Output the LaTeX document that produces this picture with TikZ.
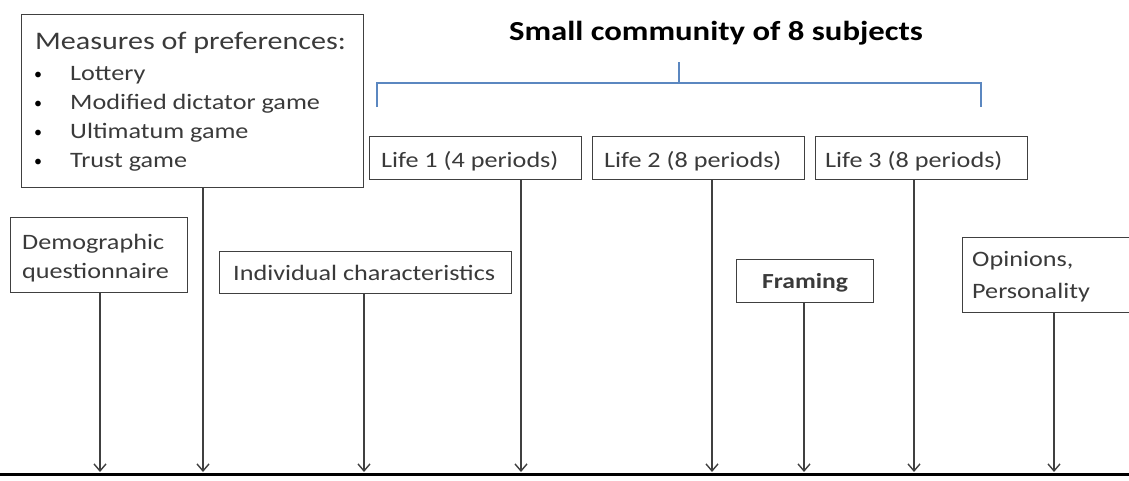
\documentclass[tikz,border=0pt]{standalone}
\usepackage{fontspec}
\setmainfont{Carlito}
\usetikzlibrary{arrows.meta}
\definecolor{txt}{HTML}{3A3A3A}
\definecolor{edge}{HTML}{404040}
\definecolor{brk}{HTML}{5B87C0}
\newcommand{\sx}[1]{\scalebox{1.19}[1]{#1}}
\begin{document}
\begin{tikzpicture}[x=1pt,y=-1pt,
  box/.style={draw=edge,line width=1.4pt,inner sep=0pt,anchor=north west},
  lbl/.style={inner sep=0pt,anchor=base west,text=txt,font=\fontsize{22}{26}\selectfont},
  bul/.style={inner sep=0pt,anchor=base west,text=black,font=\fontsize{16}{20}\selectfont},
  arr/.style={draw=edge,line width=1.4pt,-{Straight Barb[length=7pt,width=12pt,line width=1.4pt]}},
]
\useasboundingbox (0,0) rectangle (1129,480);
% timeline
\coordinate (tl0) at (0,474);
\coordinate (tl1) at (1129,474);
\draw[line width=3pt,black] (tl0) -- (tl1);
% measures box
\node[box,minimum width=342pt,minimum height=173pt] (meas) at (21,14) {};
\node[lbl,font=\fontsize{25.3}{30}\selectfont] (measT) at (35,49) {\sx{Measures of preferences:}};
\node[bul] (b1) at (34,79) {\textbullet};
\node[lbl] (m1) at (70,80) {\sx{Lottery}};
\node[bul] (b2) at (34,108) {\textbullet};
\node[lbl] (m2) at (70,109) {\sx{Modified dictator game}};
\node[bul] (b3) at (34,137) {\textbullet};
\node[lbl] (m3) at (70,138) {\sx{Ultimatum game}};
\node[bul] (b4) at (34,166) {\textbullet};
\node[lbl] (m4) at (70,167) {\sx{Trust game}};
% title and bracket
\node[inner sep=0pt,anchor=base,text=black,font=\bfseries\fontsize{27.5}{32}\selectfont] (title) at (716,40) {\sx{Small community of 8 subjects}};
\coordinate (bt) at (679,62);
\coordinate (bm) at (679,83);
\coordinate (bl) at (377,107);
\coordinate (br) at (981,107);
\draw[brk,line width=1.4pt] (bt) -- (bm);
\draw[brk,line width=1.4pt] (bl) |- (bm) -| (br);
% life boxes
\node[box,minimum width=212pt,minimum height=43pt] (life1) at (369,136) {};
\node[lbl] (life1T) at (381,167) {\sx{Life 1 (4 periods)}};
\node[box,minimum width=212pt,minimum height=43pt] (life2) at (592,136) {};
\node[lbl] (life2T) at (604,167) {\sx{Life 2 (8 periods)}};
\node[box,minimum width=212pt,minimum height=43pt] (life3) at (815,136) {};
\node[lbl] (life3T) at (825,167) {\sx{Life 3 (8 periods)}};
% lower boxes
\node[box,minimum width=177pt,minimum height=75pt] (demo) at (10,217) {};
\node[lbl] (demoT1) at (22,249) {\sx{Demographic}};
\node[lbl] (demoT2) at (22,278) {\sx{questionnaire}};
\node[box,minimum width=292pt,minimum height=42pt] (indiv) at (219,251) {};
\node[lbl] (indivT) at (233,280) {\sx{Individual characteristics}};
\node[box,minimum width=137pt,minimum height=43pt] (fram) at (736,259) {};
\node[lbl,font=\bfseries\fontsize{21.5}{26}\selectfont,anchor=base] (framT) at (805,288) {\sx{Framing}};
\node[box,minimum width=180pt,minimum height=75pt] (opin) at (962,237) {};
\node[lbl] (opinT1) at (972,266) {\sx{Opinions,}};
\node[lbl] (opinT2) at (972,298) {\sx{Personality}};
% arrow targets
\coordinate (a1) at (100,472);
\coordinate (a2) at (203,472);
\coordinate (a3) at (364,472);
\coordinate (a4) at (521,472);
\coordinate (a5) at (712,472);
\coordinate (a6) at (804,472);
\coordinate (a7) at (914,472);
\coordinate (a8) at (1054,472);
\draw[arr] (demo.south -| a1) -- (a1);
\draw[arr] (meas.south -| a2) -- (a2);
\draw[arr] (indiv.south -| a3) -- (a3);
\draw[arr] (life1.south -| a4) -- (a4);
\draw[arr] (life2.south -| a5) -- (a5);
\draw[arr] (fram.south -| a6) -- (a6);
\draw[arr] (life3.south -| a7) -- (a7);
\draw[arr] (opin.south -| a8) -- (a8);
\end{tikzpicture}
\end{document}
